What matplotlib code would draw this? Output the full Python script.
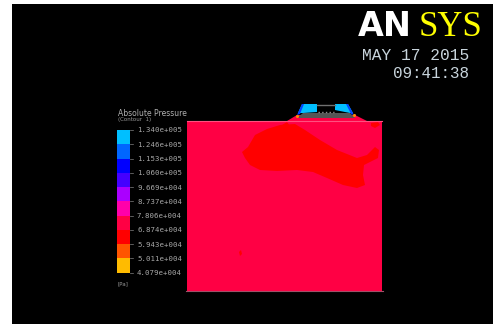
import numpy as np
from matplotlib import pyplot as plt
from matplotlib.patches import Polygon, Rectangle

W, H = 493, 324

# legend
bar_colors = ['#00bfff', '#0066ff', '#0000ff', '#4400ff', '#aa00ff',
              '#ff00aa', '#ff0044', '#ff0000', '#ff5500', '#ffbb00']
bar_labels = ['1.340e+005', '1.246e+005', '1.153e+005', '1.060e+005', '9.669e+004',
              '8.737e+004', '7.806e+004', '6.874e+004', '5.943e+004', '5.011e+004',
              '4.079e+004']

# contour outline of the lower pressure zone, picture pixels
blob_x = [242, 248, 255, 267, 280, 295, 305, 320, 337, 357, 367, 375, 379, 378,
          370, 364, 363, 365, 357, 343, 327, 313, 297, 277, 260, 250, 245]
blob_y = [152, 147, 135, 129, 125, 124, 130, 140, 150, 158, 155, 147, 150, 158,
          162, 165, 175, 185, 188, 185, 178, 172, 170, 171, 170, 165, 158]

fig = plt.figure(figsize=(W / 100, H / 100), dpi=100, facecolor='white')
ax = fig.add_axes([0, 0, 1, 1])
ax.set_xlim(0, W)
ax.set_ylim(H, 0)
ax.axis('off')

ax.add_patch(Rectangle((12, 4), W - 12, H - 4, color='black', lw=0))

# domain
ax.add_patch(Rectangle((187, 121), 195, 170, color='#ff0044', lw=0))
ax.plot([186, 383], [291, 291], color='#a05068', lw=0.8)
ax.add_patch(Polygon(np.column_stack([blob_x, blob_y]), color='#ff0000', lw=0))
ax.add_patch(Polygon([(371, 123), (378, 122), (380, 125), (375, 128), (371, 126)], color='#ff0000', lw=0))
ax.add_patch(Polygon([(239, 252), (241, 250), (242, 254), (240, 256)], color='#ff0000', lw=0))
ax.add_patch(Polygon([(282, 125), (287, 122), (290, 126)], color='#ff0000', lw=0))
ax.plot([187, 382], [121, 121], color='#ff5080', lw=0.8)

# nozzle on top
ax.add_patch(Polygon([(287, 121), (297, 115), (355, 115), (367, 121)], color='#ff0044', lw=0))
ax.add_patch(Polygon([(303, 113), (350, 113), (355, 118), (297, 118)], color='#555555', lw=0))
ax.add_patch(Polygon([(302, 104), (317, 104), (317, 112), (303, 113), (298, 113)], color='#00bfff', lw=0))
ax.add_patch(Polygon([(335, 104), (348, 104), (353, 113), (350, 113), (335, 110)], color='#00bfff', lw=0))
ax.add_patch(Polygon([(302, 104), (304, 104), (300, 114), (297, 115)], color='#0044ff', lw=0))
ax.add_patch(Polygon([(348, 104), (346, 104), (351, 114), (354, 115)], color='#0044ff', lw=0))
ax.plot([317, 335], [105, 105], color='#707070', lw=1)
ax.plot([318, 334], [112, 112], color='#909090', lw=1, ls=':')
ax.scatter([297, 354], [115.5, 115], s=5, color='#ff8800', lw=0)

# legend
ax.text(118, 113, 'Absolute Pressure', color='#b0b0b0', fontsize=5.5, va='center')
ax.text(118, 120, '(Contour  1)', color='#989898', fontsize=4, va='center')
seg = (272.7 - 130) / len(bar_colors)
for i, c in enumerate(bar_colors):
    ax.add_patch(Rectangle((117, 130 + i * seg), 13, seg, color=c, lw=0))
for i, lab in enumerate(bar_labels):
    y = 130 + i * seg
    ax.plot([130, 133], [y, y], color='#808080', lw=0.5)
    ax.text(137, y + 0.5, lab, color='#a8a8a8', fontsize=5.3, va='center', family='DejaVu Sans Mono')
ax.text(117, 284, '[Pa]', color='#989898', fontsize=4, va='center')

# logo and date
ax.text(358, 36, 'AN', color='white', fontsize=24, fontweight='bold', va='baseline', family='DejaVu Sans')
ax.text(419, 36, 'SYS', color='#ffff00', fontsize=25, va='baseline', family='Liberation Serif')
ax.text(362, 55, 'MAY 17 2015', color='#c8d4dc', fontsize=11.7, va='center', family='Liberation Mono')
ax.text(393, 73, '09:41:38', color='#c8d4dc', fontsize=11.4, va='center', family='Liberation Mono')

fig.savefig('out.png', dpi=100, facecolor='white')
